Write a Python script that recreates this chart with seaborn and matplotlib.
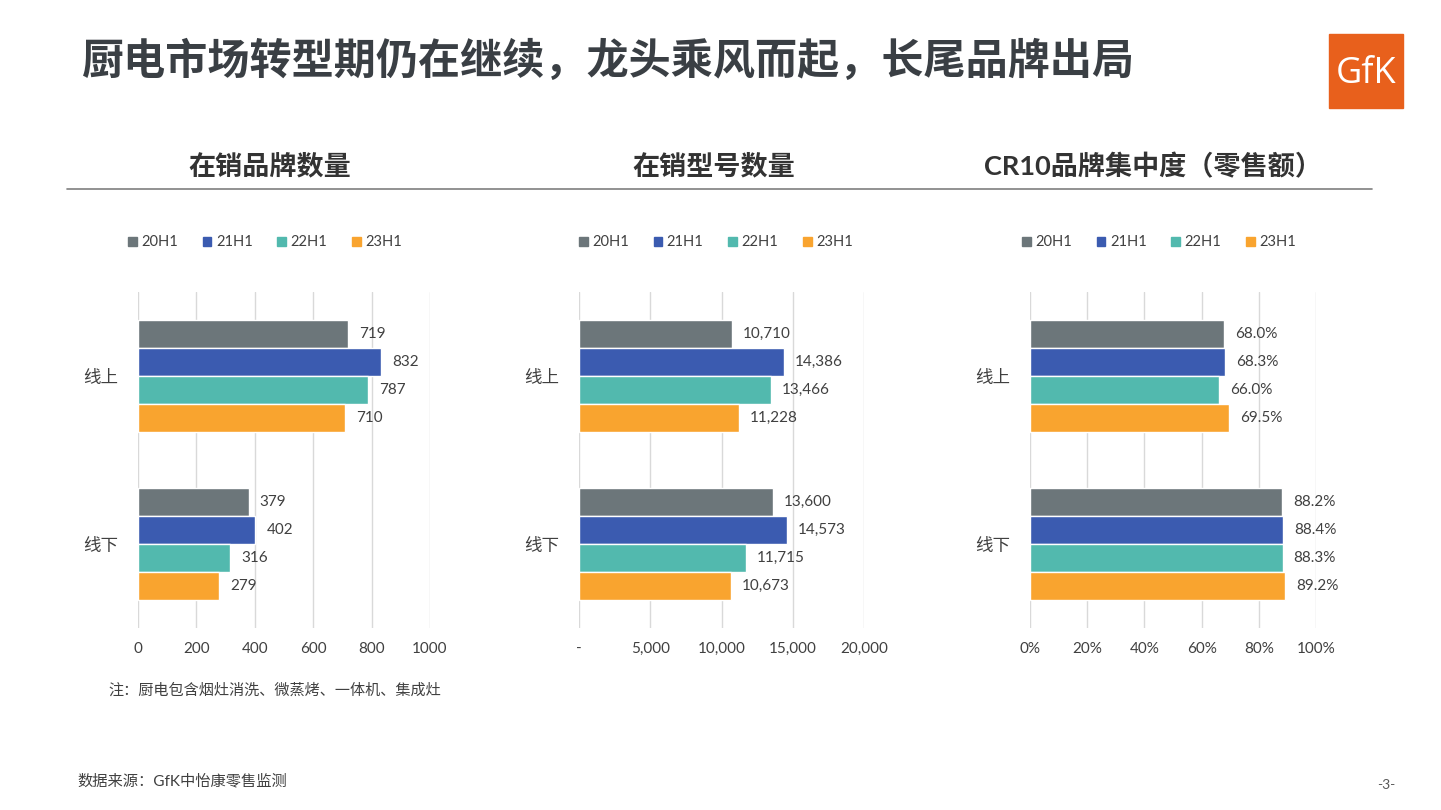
import matplotlib.pyplot as plt
import matplotlib.patches as mpatches
import seaborn as sns
import pandas as pd

sns.set_style("white")
plt.rcParams['font.family'] = ['Lato', 'Noto Sans CJK SC', 'DejaVu Sans']

# data
channels = ["线上", "线下"]
periods = ["20H1", "21H1", "22H1", "23H1"]
brand_counts = {"线上": [719, 832, 787, 710], "线下": [379, 402, 316, 279]}
model_counts = {"线上": [10710, 14386, 13466, 11228], "线下": [13600, 14573, 11715, 10673]}
cr10_share = {"线上": [68.0, 68.3, 66.0, 69.5], "线下": [88.2, 88.4, 88.3, 89.2]}

colors = ["#6C767A", "#3B5BB0", "#52B9AE", "#F9A42F"]
text_gray = "#404040"


def to_long(d):
    rows = []
    for ch in channels:
        for p, v in zip(periods, d[ch]):
            rows.append({"channel": ch, "period": p, "value": v})
    return pd.DataFrame(rows)


def draw_panel(ax, d, xmax, xstep, fmt, tickfmt, title, leg_x, title_x):
    df = to_long(d)
    sns.barplot(data=df, y="channel", x="value", hue="period", order=channels,
                hue_order=periods, palette=colors, saturation=1, width=0.667,
                orient="h", edgecolor="white", linewidth=1, ax=ax, legend=False)
    ax.set_xlim(0, xmax)
    ax.set_ylim(1.5, -0.5)
    ticks = list(range(0, xmax + 1, xstep))
    ax.set_xticks(ticks)
    ax.set_xticklabels([tickfmt(t) for t in ticks], fontsize=11, color=text_gray)
    ax.tick_params(axis="x", length=0, pad=10)
    ax.tick_params(axis="y", length=0, pad=14, labelsize=12.6, labelcolor=text_gray)
    ax.set_xlabel("")
    ax.set_ylabel("")
    ax.grid(axis="x", color="#D9D9D9", linewidth=1)
    ax.set_axisbelow(True)
    for s in ax.spines.values():
        s.set_visible(False)
    for cont in ax.containers:
        ax.bar_label(cont, labels=[fmt(v) for v in cont.datavalues],
                     padding=8, fontsize=11, color=text_gray)
    handles = [mpatches.Patch(color=c, label=p) for c, p in zip(colors, periods)]
    ax.legend(handles=handles, loc="center", bbox_to_anchor=(leg_x, 1.148), ncol=4,
              frameon=False, fontsize=10.5, handlelength=0.6, handleheight=0.6,
              handletextpad=0.3, columnspacing=1.7, labelcolor=text_gray)
    ax.text(title_x, 1.375, title, transform=ax.transAxes, ha="center", va="center",
            fontsize=19.5, fontweight="bold", color="#333333")


fig = plt.figure(figsize=(14.41, 8.1), dpi=100)
ax1 = fig.add_axes([138 / 1441, 1 - 628 / 810, 292 / 1441, 336 / 810])
ax2 = fig.add_axes([579 / 1441, 1 - 628 / 810, 285 / 1441, 336 / 810])
ax3 = fig.add_axes([1030 / 1441, 1 - 628 / 810, 286 / 1441, 336 / 810])

draw_panel(ax1, brand_counts, 1000, 200, lambda v: f"{v:.0f}", lambda t: f"{t}",
           "在销品牌数量", 0.435, (270 - 138) / 292)
draw_panel(ax2, model_counts, 20000, 5000, lambda v: f"{v:,.0f}",
           lambda t: "-" if t == 0 else f"{t:,}", "在销型号数量", 0.48, (714 - 579) / 285)
draw_panel(ax3, cr10_share, 100, 20, lambda v: f"{v:.1f}%", lambda t: f"{t}%",
           "CR10品牌集中度（零售额）", 0.451, (1153 - 1030) / 286)

# headline
fig.text(82 / 1441, 1 - 60 / 810, "厨电市场转型期仍在继续，龙头乘风而起，长尾品牌出局",
         fontsize=30.3, fontweight="heavy", color="#3A3F44", ha="left", va="center")
fig.add_artist(plt.Line2D([67 / 1441, 1372 / 1441], [1 - 189 / 810, 1 - 189 / 810],
                          color="#7F7F7F", linewidth=1.2))

# logo
fig.add_artist(mpatches.Rectangle((1329 / 1441, 1 - 108 / 810), 74 / 1441, 74 / 810,
                                  color="#E8601C", transform=fig.transFigure))
fig.text(1366 / 1441, 1 - 74 / 810, "GfK", fontsize=26, color="white",
         ha="center", va="center", family=["Open Sans", "DejaVu Sans"])

fig.text(108 / 1441, 1 - 690 / 810, "注：厨电包含烟灶消洗、微蒸烤、一体机、集成灶",
         fontsize=10.9, color="#404040", ha="left", va="center")
fig.text(77 / 1441, 1 - 781 / 810, "数据来源：GfK中怡康零售监测",
         fontsize=11, color="#404040", ha="left", va="center")
fig.text(1386 / 1441, 1 - 785 / 810, "-3-", fontsize=10, color="#595959",
         ha="center", va="center")

fig.savefig("out.png", dpi=100)
